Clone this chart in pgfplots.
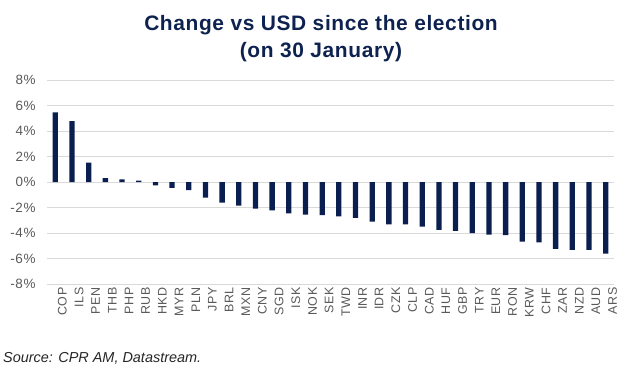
\documentclass[border=0pt]{standalone}
\usepackage{pgfplots}
\pgfplotsset{compat=1.18}
\usepackage{fontspec}
\setmainfont{Liberation Sans}
\newfontfamily\titlefont[LetterSpace=3]{Liberation Sans}
\newfontfamily\tickfont[LetterSpace=4]{Liberation Sans}
\definecolor{navy}{HTML}{0A1F4F}
\definecolor{titlenavy}{HTML}{0E2250}
\definecolor{tickgray}{HTML}{595959}
\definecolor{gridgray}{HTML}{D9D9D9}
\pgfplotstableread{
x y
0 5.46
1 4.78
2 1.52
3 0.31
4 0.21
5 0.10
6 -0.26
7 -0.47
8 -0.63
9 -1.23
10 -1.62
11 -1.86
12 -2.09
13 -2.22
14 -2.46
15 -2.55
16 -2.59
17 -2.69
18 -2.82
19 -3.11
20 -3.32
21 -3.32
22 -3.50
23 -3.76
24 -3.84
25 -4.00
26 -4.13
27 -4.16
28 -4.68
29 -4.73
30 -5.25
31 -5.33
32 -5.33
33 -5.62
}\datatable
\begin{document}
\begin{tikzpicture}[x=1bp,y=1bp]
\useasboundingbox (0,0) rectangle (625,375);
\node[anchor=base, font=\titlefont\fontsize{21}{21}\selectfont\bfseries, text=titlenavy, inner sep=0] at (321,345) {Change vs USD since the election};
\node[anchor=base, font=\titlefont\fontsize{21}{21}\selectfont\bfseries, text=titlenavy, inner sep=0] at (321,318) {(on 30 January)};
\node[anchor=base west, font=\fontsize{14.5}{14.5}\selectfont\itshape, text=black!85, inner sep=0] at (3,13) {Source: CPR AM, Datastream.};
\begin{axis}[
  at={(47bp,91bp)}, anchor=south west,
  width=567bp, height=204bp, scale only axis,
  xmin=-0.5, xmax=33.5, ymin=-8, ymax=8,
  axis line style={draw=none},
  major tick length=0pt,
  ytick={-8,-6,...,8},
  yticklabel={\pgfmathprintnumber{\tick}\%},
  /pgf/number format/assume math mode=true,
  ymajorgrids, grid style={gridgray, line width=1pt},
  xtick={0,...,33},
  xticklabels={COP,ILS,PEN,THB,PHP,RUB,HKD,MYR,PLN,JPY,BRL,MXN,CNY,SGD,ISK,NOK,SEK,TWD,INR,IDR,CZK,CLP,CAD,HUF,GBP,TRY,EUR,RON,KRW,CHF,ZAR,NZD,AUD,ARS},
  x tick label style={rotate=90, anchor=east, font=\tickfont\fontsize{12.5}{12.5}\selectfont, text=tickgray, yshift=-7bp},
  y tick label style={font=\tickfont\fontsize{13.5}{13.5}\selectfont, text=tickgray, xshift=-8bp},
]
\addplot[ybar, bar width=5.3bp, fill=navy, draw=none] table[x=x, y=y] {\datatable};
\end{axis}
\end{tikzpicture}
\end{document}
